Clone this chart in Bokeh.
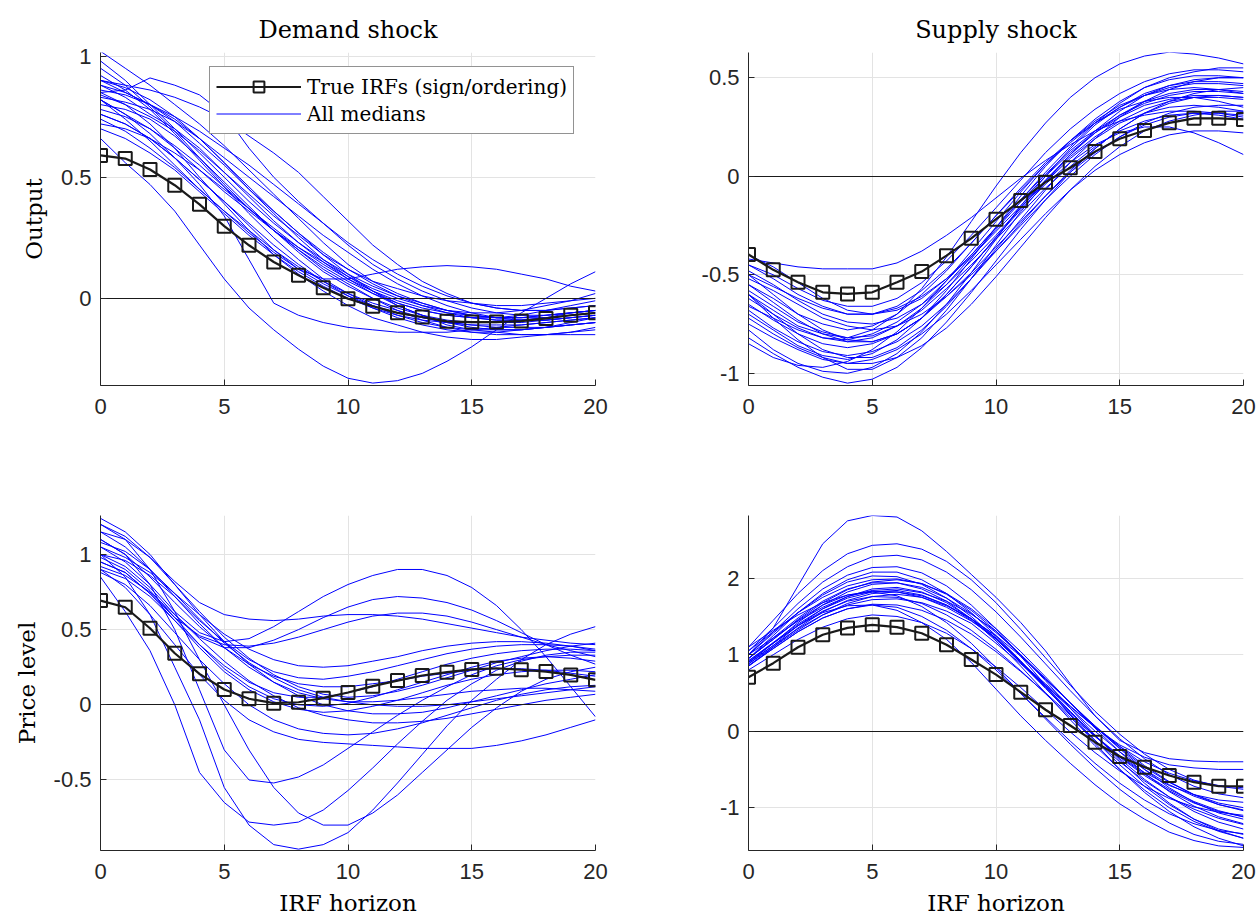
from bokeh.plotting import figure
from bokeh.layouts import column, row
from bokeh.models import Range1d, FixedTicker, Legend, LegendItem
from bokeh.embed import file_html
from bokeh.resources import INLINE

# ---------------- data ----------------
horizon = list(range(21))
x_ticks = [0, 5, 10, 15, 20]

titles = ["Demand shock", "Supply shock"]
row_labels = ["Output", "Price level"]
x_label = "IRF horizon"
legend_true = "True IRFs (sign/ordering)"
legend_med = "All medians"

yticks_out_dem = [0, 0.5, 1]
ylabels_out_dem = ["0", "0.5", "1"]
yticks_out_sup = [-1, -0.5, 0, 0.5]
ylabels_out_sup = ["-1", "-0.5", "0", "0.5"]
yticks_pri_dem = [-0.5, 0, 0.5, 1]
ylabels_pri_dem = ["-0.5", "0", "0.5", "1"]
yticks_pri_sup = [-1, 0, 1, 2]
ylabels_pri_sup = ["-1", "0", "1", "2"]

yrange_out_dem = (-0.36, 1.015)
yrange_out_sup = (-1.062, 0.628)
yrange_pri_dem = (-0.969, 1.259)
yrange_pri_sup = (-1.56, 2.82)

true_out_dem = [0.59, 0.577, 0.532, 0.467, 0.388, 0.298, 0.219, 0.15, 0.095, 0.044, -0.002,
                -0.033, -0.06, -0.077, -0.095, -0.098, -0.098, -0.094, -0.083, -0.07, -0.06]
true_out_sup = [-0.397, -0.475, -0.538, -0.589, -0.597, -0.589, -0.538, -0.484, -0.403, -0.315, -0.218,
                -0.123, -0.03, 0.043, 0.125, 0.19, 0.232, 0.271, 0.294, 0.294, 0.288]
true_pri_dem = [0.693, 0.649, 0.509, 0.343, 0.206, 0.102, 0.04, 0.011, 0.017, 0.044, 0.082,
                0.124, 0.161, 0.195, 0.217, 0.235, 0.243, 0.233, 0.221, 0.199, 0.166]
true_pri_sup = [0.706, 0.889, 1.098, 1.26, 1.35, 1.39, 1.36, 1.28, 1.13, 0.937, 0.74,
                0.51, 0.28, 0.074, -0.144, -0.33, -0.47, -0.58, -0.667, -0.72, -0.72]

med_out_dem = [
    [1.02, 0.95, 0.88, 0.8, 0.72, 0.63, 0.53, 0.43, 0.33, 0.23, 0.14, 0.07, 0.02, -0.02, -0.05, -0.07, -0.08, -0.08, -0.07, -0.06, -0.05],
    [0.9, 0.88, 0.86, 0.83, 0.79, 0.74, 0.67, 0.6, 0.52, 0.42, 0.32, 0.22, 0.14, 0.07, 0.02, -0.02, -0.04, -0.05, -0.05, -0.04, -0.03],
    [0.85, 0.86, 0.91, 0.88, 0.84, 0.76, 0.62, 0.5, 0.4, 0.31, 0.22, 0.14, 0.08, 0.03, -0.01, -0.04, -0.06, -0.07, -0.07, -0.06, -0.05],
    [0.66, 0.56, 0.47, 0.36, 0.22, 0.08, -0.04, -0.13, -0.21, -0.28, -0.33, -0.35, -0.34, -0.31, -0.26, -0.2, -0.13, -0.06, 0.0, 0.06, 0.11],
    [0.82, 0.76, 0.68, 0.58, 0.47, 0.34, 0.16, -0.02, -0.07, -0.1, -0.12, -0.13, -0.14, -0.14, -0.14, -0.13, -0.12, -0.11, -0.1, -0.09, -0.08],
    [0.92, 0.86, 0.78, 0.68, 0.57, 0.46, 0.35, 0.25, 0.16, 0.08, 0.02, -0.03, -0.07, -0.1, -0.12, -0.13, -0.13, -0.13, -0.12, -0.11, -0.1],
    [0.88, 0.83, 0.76, 0.7, 0.62, 0.52, 0.42, 0.32, 0.23, 0.15, 0.08, 0.02, -0.03, -0.07, -0.1, -0.12, -0.13, -0.13, -0.12, -0.11, -0.1],
    [0.85, 0.8, 0.72, 0.62, 0.5, 0.39, 0.28, 0.18, 0.1, 0.03, -0.03, -0.08, -0.11, -0.14, -0.16, -0.17, -0.17, -0.16, -0.15, -0.14, -0.12],
    [0.8, 0.78, 0.74, 0.67, 0.58, 0.48, 0.38, 0.28, 0.19, 0.11, 0.05, 0.0, -0.04, -0.07, -0.09, -0.1, -0.1, -0.1, -0.09, -0.08, -0.07],
    [0.76, 0.72, 0.66, 0.58, 0.49, 0.4, 0.31, 0.22, 0.14, 0.07, 0.01, -0.04, -0.08, -0.11, -0.13, -0.14, -0.14, -0.13, -0.12, -0.1, -0.08],
    [0.9, 0.85, 0.8, 0.73, 0.64, 0.55, 0.45, 0.36, 0.27, 0.19, 0.12, 0.06, 0.01, -0.03, -0.06, -0.08, -0.09, -0.09, -0.09, -0.08, -0.07],
    [0.82, 0.74, 0.65, 0.55, 0.45, 0.36, 0.27, 0.19, 0.12, 0.06, 0.01, -0.03, -0.06, -0.08, -0.1, -0.11, -0.11, -0.11, -0.1, -0.09, -0.08],
    [0.72, 0.7, 0.66, 0.6, 0.53, 0.45, 0.37, 0.29, 0.21, 0.14, 0.08, 0.03, -0.01, -0.04, -0.06, -0.07, -0.08, -0.08, -0.07, -0.06, -0.05],
    [0.95, 0.88, 0.79, 0.69, 0.58, 0.47, 0.37, 0.28, 0.2, 0.13, 0.07, 0.02, -0.02, -0.05, -0.07, -0.08, -0.09, -0.09, -0.08, -0.07, -0.06],
    [0.86, 0.84, 0.8, 0.74, 0.66, 0.56, 0.45, 0.35, 0.25, 0.16, 0.09, 0.03, -0.02, -0.05, -0.07, -0.08, -0.08, -0.07, -0.05, -0.03, -0.01],
    [0.78, 0.75, 0.7, 0.63, 0.55, 0.46, 0.37, 0.28, 0.2, 0.12, 0.06, 0.0, -0.05, -0.09, -0.12, -0.14, -0.15, -0.15, -0.15, -0.14, -0.13],
    [0.84, 0.8, 0.75, 0.69, 0.61, 0.52, 0.43, 0.34, 0.26, 0.18, 0.12, 0.07, 0.04, 0.01, -0.01, -0.02, -0.03, -0.03, -0.02, -0.01, 0.0],
    [0.74, 0.69, 0.62, 0.54, 0.45, 0.36, 0.28, 0.2, 0.13, 0.07, 0.02, -0.02, -0.05, -0.08, -0.1, -0.11, -0.12, -0.12, -0.12, -0.11, -0.1],
    [0.76, 0.72, 0.66, 0.58, 0.49, 0.4, 0.3, 0.2, 0.12, 0.08, 0.08, 0.1, 0.12, 0.13, 0.135, 0.13, 0.12, 0.1, 0.08, 0.05, 0.03],
    [0.9, 0.87, 0.82, 0.75, 0.66, 0.56, 0.46, 0.36, 0.27, 0.18, 0.1, 0.03, -0.03, -0.07, -0.11, -0.13, -0.14, -0.15, -0.15, -0.15, -0.15],
    [0.82, 0.76, 0.7, 0.62, 0.53, 0.44, 0.36, 0.28, 0.21, 0.15, 0.09, 0.04, 0.0, -0.03, -0.05, -0.06, -0.06, -0.05, -0.03, -0.01, 0.02],
    [0.7, 0.66, 0.6, 0.53, 0.44, 0.35, 0.26, 0.18, 0.11, 0.05, 0.0, -0.04, -0.07, -0.09, -0.1, -0.1, -0.1, -0.09, -0.08, -0.06, -0.05],
    [0.98, 0.9, 0.8, 0.7, 0.6, 0.5, 0.4, 0.31, 0.23, 0.16, 0.1, 0.05, 0.01, -0.02, -0.05, -0.07, -0.08, -0.08, -0.08, -0.07, -0.06],
    [0.88, 0.85, 0.8, 0.75, 0.69, 0.62, 0.55, 0.47, 0.39, 0.31, 0.23, 0.16, 0.1, 0.05, 0.01, -0.02, -0.04, -0.05, -0.05, -0.04, -0.03],
    [0.83, 0.81, 0.78, 0.73, 0.66, 0.58, 0.5, 0.42, 0.34, 0.26, 0.19, 0.12, 0.06, 0.01, -0.03, -0.06, -0.08, -0.09, -0.09, -0.08, -0.07],
]

med_out_sup = [
    [-0.42, -0.44, -0.46, -0.47, -0.47, -0.47, -0.44, -0.38, -0.3, -0.21, -0.11, -0.01, 0.08, 0.16, 0.23, 0.28, 0.31, 0.33, 0.33, 0.32, 0.3],
    [-0.45, -0.52, -0.6, -0.66, -0.7, -0.7, -0.66, -0.58, -0.47, -0.34, -0.2, -0.07, 0.06, 0.17, 0.27, 0.35, 0.41, 0.45, 0.47, 0.47, 0.46],
    [-0.5, -0.6, -0.7, -0.78, -0.83, -0.84, -0.8, -0.72, -0.6, -0.46, -0.31, -0.16, -0.02, 0.11, 0.22, 0.31, 0.38, 0.42, 0.44, 0.44, 0.43],
    [-0.6, -0.72, -0.83, -0.92, -0.98, -0.98, -0.92, -0.82, -0.68, -0.52, -0.35, -0.18, -0.03, 0.11, 0.23, 0.33, 0.41, 0.46, 0.49, 0.5, 0.5],
    [-0.82, -0.9, -0.97, -1.02, -1.05, -1.03, -0.97, -0.87, -0.74, -0.59, -0.43, -0.27, -0.12, 0.02, 0.14, 0.24, 0.32, 0.37, 0.4, 0.41, 0.4],
    [-0.55, -0.62, -0.7, -0.75, -0.78, -0.76, -0.7, -0.6, -0.48, -0.34, -0.2, -0.06, 0.07, 0.18, 0.27, 0.34, 0.38, 0.4, 0.4, 0.38, 0.35],
    [-0.65, -0.73, -0.8, -0.85, -0.87, -0.85, -0.8, -0.72, -0.61, -0.49, -0.36, -0.23, -0.1, 0.02, 0.12, 0.2, 0.26, 0.3, 0.32, 0.32, 0.31],
    [-0.7, -0.78, -0.86, -0.91, -0.93, -0.9, -0.83, -0.72, -0.58, -0.42, -0.26, -0.1, 0.05, 0.18, 0.29, 0.38, 0.45, 0.49, 0.51, 0.51, 0.5],
    [-0.48, -0.55, -0.63, -0.7, -0.74, -0.75, -0.72, -0.65, -0.55, -0.43, -0.3, -0.16, -0.03, 0.09, 0.19, 0.27, 0.32, 0.35, 0.36, 0.35, 0.33],
    [-0.6, -0.68, -0.76, -0.8, -0.82, -0.78, -0.7, -0.57, -0.41, -0.23, -0.05, 0.12, 0.27, 0.4, 0.5, 0.57, 0.61, 0.63, 0.62, 0.6, 0.57],
    [-0.75, -0.82, -0.88, -0.93, -0.95, -0.93, -0.88, -0.8, -0.7, -0.58, -0.45, -0.32, -0.19, -0.07, 0.03, 0.11, 0.17, 0.21, 0.23, 0.23, 0.22],
    [-0.55, -0.64, -0.73, -0.8, -0.84, -0.84, -0.8, -0.72, -0.6, -0.46, -0.31, -0.17, -0.04, 0.07, 0.16, 0.22, 0.25, 0.25, 0.22, 0.17, 0.11],
    [-0.62, -0.7, -0.77, -0.82, -0.84, -0.82, -0.76, -0.67, -0.55, -0.41, -0.27, -0.13, 0.0, 0.12, 0.22, 0.3, 0.36, 0.39, 0.41, 0.41, 0.4],
    [-0.58, -0.66, -0.74, -0.79, -0.82, -0.81, -0.76, -0.68, -0.57, -0.45, -0.32, -0.19, -0.06, 0.05, 0.15, 0.23, 0.28, 0.31, 0.32, 0.31, 0.29],
    [-0.45, -0.5, -0.57, -0.63, -0.66, -0.66, -0.62, -0.54, -0.43, -0.3, -0.16, -0.02, 0.12, 0.24, 0.34, 0.42, 0.48, 0.52, 0.54, 0.54, 0.53],
    [-0.78, -0.88, -0.95, -0.99, -1.0, -0.97, -0.9, -0.79, -0.65, -0.49, -0.32, -0.15, 0.0, 0.14, 0.26, 0.35, 0.42, 0.46, 0.48, 0.48, 0.47],
    [-0.52, -0.58, -0.65, -0.72, -0.76, -0.78, -0.76, -0.7, -0.61, -0.5, -0.38, -0.25, -0.12, 0.0, 0.11, 0.2, 0.27, 0.32, 0.35, 0.36, 0.36],
    [-0.68, -0.77, -0.84, -0.89, -0.91, -0.89, -0.84, -0.76, -0.65, -0.52, -0.38, -0.24, -0.1, 0.03, 0.14, 0.24, 0.32, 0.38, 0.42, 0.44, 0.45],
    [-0.4, -0.46, -0.54, -0.62, -0.68, -0.7, -0.68, -0.62, -0.52, -0.4, -0.26, -0.12, 0.02, 0.15, 0.27, 0.37, 0.45, 0.5, 0.53, 0.55, 0.55],
    [-0.72, -0.8, -0.87, -0.92, -0.95, -0.95, -0.92, -0.86, -0.77, -0.65, -0.51, -0.36, -0.21, -0.07, 0.05, 0.15, 0.23, 0.28, 0.31, 0.33, 0.33],
    [-0.5, -0.56, -0.62, -0.67, -0.7, -0.7, -0.67, -0.61, -0.52, -0.41, -0.28, -0.15, -0.02, 0.1, 0.2, 0.28, 0.34, 0.38, 0.4, 0.4, 0.39],
    [-0.85, -0.92, -0.96, -0.97, -0.94, -0.88, -0.79, -0.67, -0.53, -0.38, -0.23, -0.08, 0.06, 0.18, 0.28, 0.36, 0.41, 0.44, 0.45, 0.44, 0.42],
    [-0.6, -0.7, -0.8, -0.88, -0.92, -0.92, -0.87, -0.78, -0.66, -0.52, -0.37, -0.22, -0.07, 0.07, 0.19, 0.3, 0.38, 0.44, 0.48, 0.5, 0.5],
    [-0.66, -0.72, -0.78, -0.82, -0.83, -0.8, -0.74, -0.65, -0.53, -0.4, -0.26, -0.12, 0.01, 0.13, 0.23, 0.31, 0.37, 0.41, 0.43, 0.43, 0.42],
]

med_pri_dem = [
    [1.05, 0.95, 0.8, 0.62, 0.48, 0.42, 0.44, 0.52, 0.62, 0.72, 0.8, 0.86, 0.9, 0.9, 0.86, 0.78, 0.66, 0.5, 0.32, 0.12, -0.08],
    [1.0, 0.92, 0.78, 0.6, 0.45, 0.38, 0.38, 0.43, 0.5, 0.58, 0.65, 0.7, 0.72, 0.71, 0.68, 0.63, 0.56, 0.48, 0.4, 0.33, 0.27],
    [0.95, 0.88, 0.74, 0.58, 0.46, 0.4, 0.39, 0.41, 0.45, 0.5, 0.55, 0.59, 0.61, 0.61, 0.59, 0.55, 0.5, 0.45, 0.4, 0.36, 0.32],
    [1.15, 1.1, 0.98, 0.82, 0.68, 0.6, 0.57, 0.56, 0.57, 0.59, 0.6, 0.6, 0.59, 0.57, 0.54, 0.51, 0.48, 0.45, 0.43, 0.41, 0.4],
    [0.9, 0.78, 0.6, 0.4, 0.2, 0.03, -0.1, -0.18, -0.23, -0.25, -0.26, -0.27, -0.28, -0.29, -0.29, -0.29, -0.27, -0.24, -0.2, -0.15, -0.1],
    [1.0, 0.85, 0.6, 0.25, -0.1, -0.55, -0.8, -0.93, -0.96, -0.93, -0.85, -0.7, -0.52, -0.33, -0.14, 0.03, 0.17, 0.3, 0.4, 0.47, 0.52],
    [0.85, 0.62, 0.36, 0.0, -0.45, -0.65, -0.78, -0.8, -0.78, -0.7, -0.57, -0.42, -0.26, -0.11, 0.03, 0.14, 0.23, 0.29, 0.33, 0.35, 0.35],
    [1.1, 1.0, 0.8, 0.5, 0.1, -0.3, -0.5, -0.52, -0.48, -0.4, -0.29, -0.18, -0.07, 0.03, 0.12, 0.2, 0.26, 0.3, 0.32, 0.33, 0.33],
    [1.2, 1.1, 0.9, 0.62, 0.3, 0.0, -0.3, -0.55, -0.72, -0.8, -0.8, -0.72, -0.6, -0.45, -0.3, -0.15, -0.02, 0.09, 0.17, 0.22, 0.25],
    [1.1, 1.0, 0.85, 0.68, 0.52, 0.38, 0.27, 0.19, 0.14, 0.12, 0.12, 0.14, 0.16, 0.19, 0.21, 0.23, 0.24, 0.24, 0.23, 0.21, 0.19],
    [0.95, 0.88, 0.74, 0.56, 0.38, 0.22, 0.1, 0.02, -0.03, -0.05, -0.04, -0.01, 0.03, 0.08, 0.13, 0.17, 0.2, 0.22, 0.23, 0.23, 0.22],
    [1.2, 1.12, 0.98, 0.8, 0.62, 0.45, 0.31, 0.2, 0.12, 0.07, 0.05, 0.06, 0.09, 0.13, 0.18, 0.23, 0.28, 0.32, 0.36, 0.39, 0.41],
    [0.88, 0.8, 0.66, 0.48, 0.3, 0.14, 0.0, -0.1, -0.16, -0.19, -0.2, -0.19, -0.16, -0.12, -0.07, -0.02, 0.03, 0.07, 0.1, 0.12, 0.13],
    [1.05, 0.98, 0.88, 0.74, 0.6, 0.47, 0.37, 0.3, 0.26, 0.25, 0.26, 0.29, 0.32, 0.36, 0.39, 0.41, 0.42, 0.42, 0.41, 0.39, 0.36],
    [0.98, 0.9, 0.76, 0.58, 0.4, 0.24, 0.12, 0.04, 0.0, -0.01, 0.01, 0.05, 0.1, 0.15, 0.2, 0.25, 0.29, 0.31, 0.32, 0.31, 0.29],
    [1.15, 1.05, 0.9, 0.72, 0.54, 0.38, 0.25, 0.15, 0.08, 0.04, 0.02, 0.02, 0.03, 0.05, 0.07, 0.09, 0.1, 0.11, 0.11, 0.1, 0.09],
    [0.92, 0.86, 0.75, 0.6, 0.44, 0.29, 0.16, 0.06, -0.02, -0.07, -0.1, -0.12, -0.12, -0.11, -0.09, -0.06, -0.03, 0.0, 0.03, 0.05, 0.07],
    [1.0, 0.96, 0.86, 0.72, 0.56, 0.42, 0.3, 0.22, 0.18, 0.17, 0.19, 0.22, 0.26, 0.3, 0.34, 0.37, 0.39, 0.4, 0.4, 0.39, 0.37],
    [1.24, 1.15, 1.0, 0.8, 0.6, 0.42, 0.27, 0.15, 0.06, 0.0, -0.04, -0.06, -0.06, -0.05, -0.02, 0.02, 0.06, 0.1, 0.14, 0.17, 0.2],
    [0.9, 0.84, 0.72, 0.56, 0.4, 0.26, 0.15, 0.08, 0.05, 0.05, 0.08, 0.12, 0.17, 0.22, 0.27, 0.31, 0.34, 0.36, 0.37, 0.37, 0.36],
    [1.08, 1.02, 0.9, 0.74, 0.57, 0.41, 0.28, 0.18, 0.1, 0.05, 0.02, 0.0, -0.01, -0.01, 0.0, 0.02, 0.04, 0.06, 0.08, 0.1, 0.12],
]

med_pri_sup = [
    [1.0, 1.35, 1.9, 2.45, 2.75, 2.82, 2.8, 2.62, 2.35, 2.05, 1.75, 1.42, 1.05, 0.62, 0.2, -0.12, -0.28, -0.36, -0.39, -0.4, -0.4],
    [1.1, 1.45, 1.8, 2.1, 2.32, 2.43, 2.45, 2.38, 2.22, 1.98, 1.68, 1.33, 0.96, 0.6, 0.26, -0.04, -0.3, -0.5, -0.64, -0.72, -0.76],
    [1.05, 1.35, 1.67, 1.95, 2.15, 2.28, 2.3, 2.24, 2.08, 1.85, 1.56, 1.23, 0.88, 0.53, 0.2, -0.1, -0.36, -0.57, -0.72, -0.82, -0.87],
    [0.95, 1.25, 1.55, 1.8, 1.98, 2.08, 2.08, 1.98, 1.8, 1.55, 1.25, 0.92, 0.58, 0.25, -0.06, -0.34, -0.58, -0.78, -0.94, -1.05, -1.12],
    [0.9, 1.15, 1.42, 1.65, 1.82, 1.92, 1.94, 1.88, 1.74, 1.54, 1.29, 1.0, 0.69, 0.37, 0.06, -0.22, -0.47, -0.67, -0.83, -0.94, -1.0],
    [1.0, 1.28, 1.55, 1.78, 1.95, 2.03, 2.02, 1.92, 1.74, 1.5, 1.21, 0.89, 0.56, 0.24, -0.06, -0.32, -0.54, -0.71, -0.83, -0.9, -0.93],
    [0.85, 1.1, 1.35, 1.56, 1.71, 1.8, 1.82, 1.77, 1.65, 1.47, 1.24, 0.9, 0.6, 0.3, 0.0, -0.27, -0.5, -0.7, -0.85, -0.96, -1.03],
    [0.95, 1.2, 1.46, 1.68, 1.85, 1.95, 1.98, 1.93, 1.8, 1.6, 1.34, 1.04, 0.71, 0.37, 0.04, -0.27, -0.55, -0.79, -0.98, -1.12, -1.21],
    [1.1, 1.32, 1.52, 1.68, 1.78, 1.83, 1.82, 1.75, 1.62, 1.44, 1.22, 0.9, 0.62, 0.33, 0.05, -0.2, -0.4, -0.55, -0.65, -0.71, -0.74],
    [0.88, 1.12, 1.38, 1.6, 1.76, 1.86, 1.88, 1.82, 1.68, 1.47, 1.21, 0.91, 0.59, 0.26, -0.06, -0.36, -0.63, -0.86, -1.05, -1.19, -1.28],
    [0.92, 1.15, 1.38, 1.57, 1.7, 1.76, 1.75, 1.67, 1.52, 1.32, 1.07, 0.79, 0.49, 0.18, -0.12, -0.4, -0.65, -0.86, -1.02, -1.14, -1.22],
    [1.0, 1.3, 1.6, 1.86, 2.04, 2.14, 2.15, 2.07, 1.9, 1.65, 1.34, 0.98, 0.6, 0.21, -0.16, -0.5, -0.8, -1.05, -1.25, -1.4, -1.5],
    [0.86, 1.08, 1.3, 1.48, 1.6, 1.66, 1.65, 1.58, 1.45, 1.27, 1.04, 0.78, 0.5, 0.21, -0.07, -0.33, -0.56, -0.76, -0.92, -1.04, -1.12],
    [0.95, 1.22, 1.48, 1.7, 1.86, 1.94, 1.94, 1.86, 1.7, 1.47, 1.18, 0.85, 0.5, 0.15, -0.19, -0.5, -0.77, -1.0, -1.18, -1.31, -1.4],
    [0.9, 1.12, 1.34, 1.52, 1.65, 1.72, 1.73, 1.68, 1.57, 1.41, 1.15, 0.88, 0.6, 0.32, 0.05, -0.18, -0.34, -0.44, -0.48, -0.5, -0.5],
    [1.05, 1.3, 1.55, 1.75, 1.9, 1.98, 1.99, 1.93, 1.79, 1.58, 1.31, 1.0, 0.66, 0.3, -0.05, -0.38, -0.68, -0.94, -1.15, -1.3, -1.4],
    [0.88, 1.1, 1.32, 1.52, 1.67, 1.76, 1.79, 1.75, 1.64, 1.47, 1.25, 0.98, 0.68, 0.37, 0.06, -0.23, -0.5, -0.74, -0.93, -1.07, -1.15],
    [1.0, 1.22, 1.44, 1.62, 1.76, 1.84, 1.86, 1.81, 1.7, 1.53, 1.31, 0.98, 0.68, 0.37, 0.07, -0.2, -0.45, -0.66, -0.83, -0.96, -1.04],
    [0.95, 1.2, 1.45, 1.65, 1.78, 1.82, 1.77, 1.63, 1.42, 1.15, 0.83, 0.5, 0.16, -0.17, -0.48, -0.76, -1.0, -1.2, -1.35, -1.44, -1.48],
    [0.92, 1.16, 1.4, 1.6, 1.74, 1.82, 1.84, 1.78, 1.65, 1.45, 1.2, 0.9, 0.57, 0.22, -0.12, -0.44, -0.72, -0.96, -1.15, -1.28, -1.35],
    [0.9, 1.15, 1.38, 1.55, 1.64, 1.65, 1.58, 1.42, 1.2, 0.9, 0.55, 0.2, -0.12, -0.42, -0.7, -0.95, -1.15, -1.32, -1.43, -1.5, -1.52],
    [0.85, 1.08, 1.3, 1.48, 1.6, 1.65, 1.62, 1.5, 1.32, 1.08, 0.8, 0.49, 0.18, -0.13, -0.42, -0.68, -0.9, -1.08, -1.21, -1.3, -1.34],
    [0.8, 1.0, 1.2, 1.36, 1.47, 1.52, 1.5, 1.42, 1.28, 1.08, 0.84, 0.57, 0.28, -0.01, -0.28, -0.52, -0.72, -0.88, -0.99, -1.06, -1.1],
]

# ---------------- styling ----------------
BLUE = "#0000ff"
DARK = "#262626"
SERIF = "DejaVu Serif"
SANS = "Liberation Sans"


def make_panel(width, height, borders, yrange, yticks, ylabels, medians, truth,
               title=None, ylabel=None, xlabel=None, legend=False):
    bl, br, bt, bb = borders
    p = figure(width=width, height=height, x_range=Range1d(0, 20), y_range=Range1d(*yrange),
               output_backend="svg", toolbar_location=None,
               min_border_left=bl, min_border_right=br, min_border_top=bt, min_border_bottom=bb)
    p.background_fill_color = "white"
    p.border_fill_color = "white"
    p.outline_line_color = None

    ml = p.multi_line(xs=[horizon] * len(medians), ys=medians, line_color=BLUE, line_width=1)
    p.hspan(y=[0], line_color="#1a1a1a", line_width=1.2)
    tl = p.line(horizon, truth, line_color="#1a1a1a", line_width=2.2)
    sc = p.scatter(horizon, truth, marker="square", size=13, line_color="#1a1a1a",
                   line_width=2, fill_color=None)

    for ax in (p.xaxis[0], p.yaxis[0]):
        ax.axis_line_color = DARK
        ax.axis_line_width = 1
        ax.major_tick_line_color = DARK
        ax.major_tick_in = 6
        ax.major_tick_out = 0
        ax.minor_tick_line_color = None
        ax.major_label_text_font = SANS
        ax.major_label_text_font_size = "22px"
        ax.major_label_text_color = DARK
        ax.axis_label_text_font = SERIF
        ax.axis_label_text_font_size = "23px"
        ax.axis_label_text_font_style = "normal"
        ax.axis_label_text_color = "black"

    p.xaxis[0].ticker = FixedTicker(ticks=x_ticks)
    p.xaxis[0].major_label_standoff = 13
    p.yaxis[0].ticker = FixedTicker(ticks=yticks)
    p.yaxis[0].major_label_overrides = {t: l for t, l in zip(yticks, ylabels)}
    p.yaxis[0].major_label_standoff = 9
    if ylabel:
        p.yaxis[0].axis_label = ylabel
        p.yaxis[0].axis_label_standoff = 11
    if xlabel:
        p.xaxis[0].axis_label = xlabel
        p.xaxis[0].axis_label_standoff = 8

    p.xgrid.grid_line_color = "#e3e3e3"
    p.ygrid.grid_line_color = "#e3e3e3"
    p.xgrid.ticker = FixedTicker(ticks=x_ticks)
    p.ygrid.ticker = FixedTicker(ticks=yticks)

    if title:
        p.title.text = title
        p.title.text_font = SERIF
        p.title.text_font_size = "24px"
        p.title.text_font_style = "normal"
        p.title.text_color = "black"
        p.title.align = "center"
        p.title.standoff = 18

    if legend:
        lg = Legend(items=[LegendItem(label=legend_true, renderers=[tl, sc]),
                           LegendItem(label=legend_med, renderers=[ml])],
                    location=(109, 251), orientation="vertical")
        lg.margin = 0
        lg.padding = 6
        lg.spacing = 0
        lg.glyph_width = 85
        lg.glyph_height = 27
        lg.label_height = 27
        lg.label_standoff = 6
        lg.label_text_font = SERIF
        lg.label_text_font_size = "20px"
        lg.label_text_color = "black"
        lg.border_line_color = DARK
        lg.border_line_width = 1
        lg.background_fill_color = "white"
        lg.background_fill_alpha = 1
        p.add_layout(lg)
    return p


p_od = make_panel(640, 445, (100, 45, 52, 60), yrange_out_dem, yticks_out_dem, ylabels_out_dem,
                  med_out_dem, true_out_dem, title=titles[0], ylabel=row_labels[0], legend=True)
p_os = make_panel(618, 445, (108, 15, 52, 60), yrange_out_sup, yticks_out_sup, ylabels_out_sup,
                  med_out_sup, true_out_sup, title=titles[1])
p_pd = make_panel(640, 477, (100, 45, 70, 72), yrange_pri_dem, yticks_pri_dem, ylabels_pri_dem,
                  med_pri_dem, true_pri_dem, ylabel=row_labels[1], xlabel=x_label)
p_ps = make_panel(618, 477, (108, 15, 70, 72), yrange_pri_sup, yticks_pri_sup, ylabels_pri_sup,
                  med_pri_sup, true_pri_sup, xlabel=x_label)

layout = column(row(p_od, p_os, spacing=0), row(p_pd, p_ps, spacing=0), spacing=0)

with open("out.html", "w") as f:
    f.write(file_html(layout, INLINE))
